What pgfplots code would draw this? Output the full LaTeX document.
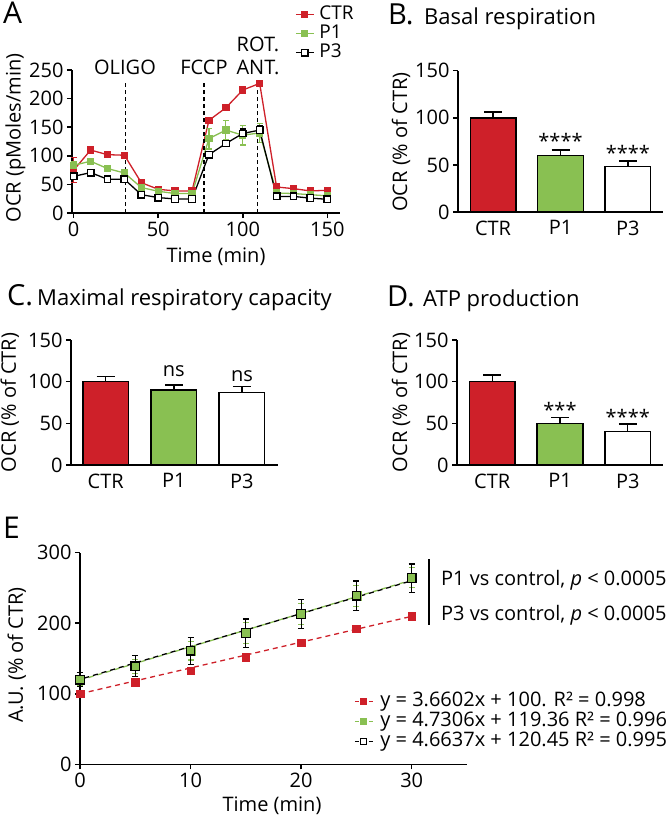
\documentclass[border=0pt]{standalone}
\usepackage{fontspec}
\setmainfont{Open Sans}
\usepackage{pgfplots}
\usepackage{pgfplotstable}
\pgfplotsset{compat=1.18}
\definecolor{cred}{RGB}{206,32,41}
\definecolor{cgreen}{RGB}{137,192,82}
\newcommand{\tf}{\fontsize{20}{24}\selectfont}
\newcommand{\lf}{\fontsize{19}{22}\selectfont}
\newcommand{\ttl}{\fontsize{22}{26}\selectfont}
\newcommand{\lett}{\fontsize{29}{34}\selectfont}

\pgfplotstableread{
x ctr ectr p1 ep1 p3 ep3
0 75 22 83.5 6 64 5
10 110 3 90.5 3 70.7 3
20 102 3 77.7 3 59 3
30 101 3 70 5 59 3
40 53 3 44.5 3 32 3
50 41.5 2 38 2 27 2
60 38.6 2 34 2 24.5 2
70 38.6 2 34 2 24.5 2
80 162 3 130 18 102 4
90 184 3 145 17 121.5 4
100 215 3 136 17 139 8
110 226.6 3 140 17 145 8
120 45.5 3 35 2 29 2
130 42.6 2 34 2 29 2
140 38.6 2 32 2 26 2
150 39.7 2 30 2 24 2
}\tabA

\pgfplotstableread{
x ctr ectr p1 ep1 p3 ep3
0 100 2 119 7 120 10
5 116 2 139 10 139 15
10 133 4 161 13 161 19
15 152 5 186 15 186 20
20 172.5 4 213 15 213 21
25 192 2 239 15 239 21
30 210 2 265 14 264 20
}\tabE

\pgfplotsset{
  base/.style={scale only axis, anchor=south west, clip=false,
    axis x line*=bottom, axis y line*=left,
    axis line style={line width=1.5pt},
    every tick/.style={line width=1.5pt, black},
    major tick length=5pt, tick align=outside,
    ticklabel style={font=\tf},
    /pgf/number format/assume math mode=true,
    ymin=0},
  barpanel/.style={base, xmin=-0.52, xmax=2.52, ymax=150, ytick={0,50,100,150},
    xtick={0,1,2}, xticklabels={CTR,P1,P3}, major x tick style={draw=none}},
  barstyle/.style={ybar, bar width=45.7pt, bar shift=0pt, draw=black, line width=1.4pt,
    /pgfplots/error bars/y dir=plus, /pgfplots/error bars/y explicit,
    /pgfplots/error bars/error bar style={black, line width=1.4pt},
    /pgfplots/error bars/error mark options={rotate=90, black, mark size=9pt, line width=1.4pt}},
  errA/.style={/pgfplots/error bars/y dir=both, /pgfplots/error bars/y explicit,
    /pgfplots/error bars/error bar style={#1, line width=1.2pt},
    /pgfplots/error bars/error mark options={rotate=90, #1, mark size=3pt, line width=1.2pt}},
}

\begin{document}
\begin{tikzpicture}
\path[use as bounding box] (0pt,0pt) rectangle (668pt,-823pt);

% ---------------- Panel A
\begin{axis}[base, at={(72pt,-213pt)}, width=268pt, height=143pt,
  xmin=-1, xmax=157.5, ymax=250, xtick={0,50,100,150}, ytick={0,50,...,250},
  legend style={at={(axis description cs:0.832,1.455)}, anchor=north west, draw=none, fill=none,
    font=\lf, row sep=0pt, inner sep=0pt,
    nodes={inner xsep=2pt, inner ysep=0pt, text height=14.5pt, text depth=4.5pt},
    /tikz/every odd column/.append style={column sep=3pt}},
  legend cell align=left,
  legend image code/.code={\draw[mark repeat=2,mark phase=2,#1] plot coordinates {(0pt,0pt) (9pt,0pt) (18pt,0pt)};}]
\addplot[cred, line width=1.3pt, mark=square*, mark size=3pt, mark options={solid}, errA=cred]
  table[x=x, y=ctr, y error=ectr] {\tabA};
\addplot[cgreen, line width=1.3pt, mark=square*, mark size=3pt, mark options={solid}, errA=cgreen]
  table[x=x, y=p1, y error=ep1] {\tabA};
\addplot[black, line width=1.3pt, mark=square*, mark size=3.3pt, mark options={solid, fill=white}, errA=black]
  table[x=x, y=p3, y error=ep3] {\tabA};
\addplot[black, line width=1.3pt, dash pattern=on 4pt off 3pt, forget plot] coordinates {(30.5,0) (30.5,229)};
\addplot[black, line width=1.3pt, dash pattern=on 4pt off 3pt, forget plot] coordinates {(77,0) (77,229)};
\addplot[black, line width=1.3pt, dash pattern=on 4pt off 3pt, forget plot] coordinates {(108.9,0) (108.9,229)};
\legend{CTR,P1,P3}
\end{axis}

% ---------------- Panel B
\begin{axis}[barpanel, at={(458pt,-212pt)}, width=205pt, height=141.3pt]
\addplot[fill=cred, barstyle] coordinates {(0,100) +- (0,6)};
\addplot[fill=cgreen, barstyle] coordinates {(1,60) +- (0,6)};
\addplot[fill=white, barstyle] coordinates {(2,48) +- (0,6)};
\node[anchor=base, font=\tf] at (axis cs:1,67) {****};
\node[anchor=base, font=\tf] at (axis cs:2,55) {****};
\end{axis}

% ---------------- Panel C
\begin{axis}[barpanel, at={(71pt,-465pt)}, width=207pt, height=125pt, xmin=-0.51, xmax=2.53]
\addplot[fill=cred, barstyle] coordinates {(0,100) +- (0,6)};
\addplot[fill=cgreen, barstyle] coordinates {(1,90) +- (0,6)};
\addplot[fill=white, barstyle] coordinates {(2,87) +- (0,7)};
\node[anchor=base, font=\tf] at (axis cs:1,106) {ns};
\node[anchor=base, font=\tf] at (axis cs:2,100) {ns};
\end{axis}

% ---------------- Panel D
\begin{axis}[barpanel, at={(457pt,-465pt)}, width=206pt, height=125pt]
\addplot[fill=cred, barstyle] coordinates {(0,100) +- (0,8)};
\addplot[fill=cgreen, barstyle] coordinates {(1,50) +- (0,7)};
\addplot[fill=white, barstyle] coordinates {(2,40) +- (0,9)};
\node[anchor=base, font=\tf] at (axis cs:1,57) {***};
\node[anchor=base, font=\tf] at (axis cs:2,49) {****};
\end{axis}

% ---------------- Panel E
\begin{axis}[base, at={(80pt,-764.3pt)}, width=387pt, height=211.6pt,
  xmin=0, xmax=35, ymax=300, xtick={0,10,20,30}, ytick={0,100,200,300},
  legend style={at={(axis description cs:0.708,0.3464)}, anchor=north west, draw=none, fill=none,
    font=\tf, row sep=0pt, inner sep=0pt,
    nodes={inner xsep=2pt, inner ysep=0pt, text height=15pt, text depth=5pt},
    /tikz/every odd column/.append style={column sep=5pt}},
  legend cell align=left,
  legend image code/.code={\draw[mark repeat=2,mark phase=2,#1] plot coordinates {(0pt,0pt) (9pt,0pt) (18pt,0pt)};}]
\addlegendimage{cred, line width=1.2pt, dash pattern=on 4pt off 3pt, mark=square*, mark size=3pt, mark options={solid}}
\addlegendimage{cgreen, line width=1.2pt, dash pattern=on 4pt off 3pt, mark=square*, mark size=3pt, mark options={solid}}
\addlegendimage{black, line width=1.2pt, dash pattern=on 4pt off 3pt, mark=square*, mark size=3pt, mark options={solid, fill=white}}
\addplot[cred, line width=1.3pt, dash pattern=on 5pt off 4pt, forget plot] coordinates {(0,100) (30,209.8)};
\addplot[cgreen, line width=1.3pt, dash pattern=on 5pt off 4pt, forget plot] coordinates {(0,119.36) (30,261.28)};
\addplot[black, line width=1.3pt, dash pattern=on 5pt off 4pt, dash phase=4.5pt, forget plot] coordinates {(0,120.45) (30,260.36)};
\addplot[cred, only marks, mark=square*, mark size=3.8pt, forget plot, errA=cred]
  table[x=x, y=ctr, y error=ectr] {\tabE};
\addplot[cgreen, only marks, mark=square*, mark size=4.3pt, forget plot, errA=cgreen]
  table[x=x, y=p1, y error=ep1] {\tabE};
\addplot[black, only marks, mark=square, mark size=4.3pt, line width=1.2pt, forget plot, errA=black]
  table[x=x, y=p3, y error=ep3] {\tabE};
\legend{y = 3.6602x + 100. R² = 0.998, y = 4.7306x + 119.36 R² = 0.996, y = 4.6637x + 120.45 R² = 0.995}
\end{axis}

% ---------------- Texts
\node[anchor=base west, font=\fontsize{30}{36}\selectfont, inner sep=0pt] at (3pt,-23pt) {A};
\node[anchor=base west, font=\lett, inner sep=0pt] at (388pt,-24pt) {B.};
\node[anchor=base west, font=\ttl, inner sep=0pt] at (424pt,-24pt) {Basal respiration};
\node[anchor=base west, font=\lett, inner sep=0pt] at (7pt,-305pt) {C.};
\node[anchor=base west, font=\ttl, inner sep=0pt] at (37pt,-305pt) {Maximal respiratory capacity};
\node[anchor=base west, font=\lett, inner sep=0pt] at (387pt,-306pt) {D.};
\node[anchor=base west, font=\ttl, inner sep=0pt] at (423pt,-306pt) {ATP production};
\node[anchor=base west, font=\fontsize{30}{36}\selectfont, inner sep=0pt] at (3pt,-538pt) {E};

\node[anchor=base, font=\tf, inner sep=0pt] at (125pt,-74pt) {OLIGO};
\node[anchor=base, font=\tf, inner sep=0pt] at (204pt,-74pt) {FCCP};
\node[anchor=base, font=\tf, inner sep=0pt] at (258pt,-51pt) {ROT.};
\node[anchor=base, font=\tf, inner sep=0pt] at (258pt,-74pt) {ANT.};

\node[anchor=base, rotate=90, font=\tf, inner sep=0pt] at (20.5pt,-138pt) {OCR (pMoles/min)};
\node[anchor=base, font=\tf, inner sep=0pt] at (216pt,-262pt) {Time (min)};
\node[anchor=base, rotate=90, font=\tf, inner sep=0pt] at (407pt,-142pt) {OCR (\% of CTR)};
\node[anchor=base, rotate=90, font=\tf, inner sep=0pt] at (16pt,-402.5pt) {OCR (\% of CTR)};
\node[anchor=base, rotate=90, font=\tf, inner sep=0pt] at (407pt,-402.5pt) {OCR (\% of CTR)};
\node[anchor=base, rotate=90, font=\tf, inner sep=0pt] at (23pt,-655pt) {A.U. (\% of CTR)};
\node[anchor=base, font=\tf, inner sep=0pt] at (272pt,-811pt) {Time (min)};

\draw[line width=1.3pt] (429pt,-559pt) -- (429pt,-625pt);
\node[anchor=base west, font=\tf, inner sep=0pt] at (441pt,-585pt) {P1 vs control, \textit{p} < 0.0005};
\node[anchor=base west, font=\tf, inner sep=0pt] at (441pt,-620pt) {P3 vs control, \textit{p} < 0.0005};
\end{tikzpicture}
\end{document}
